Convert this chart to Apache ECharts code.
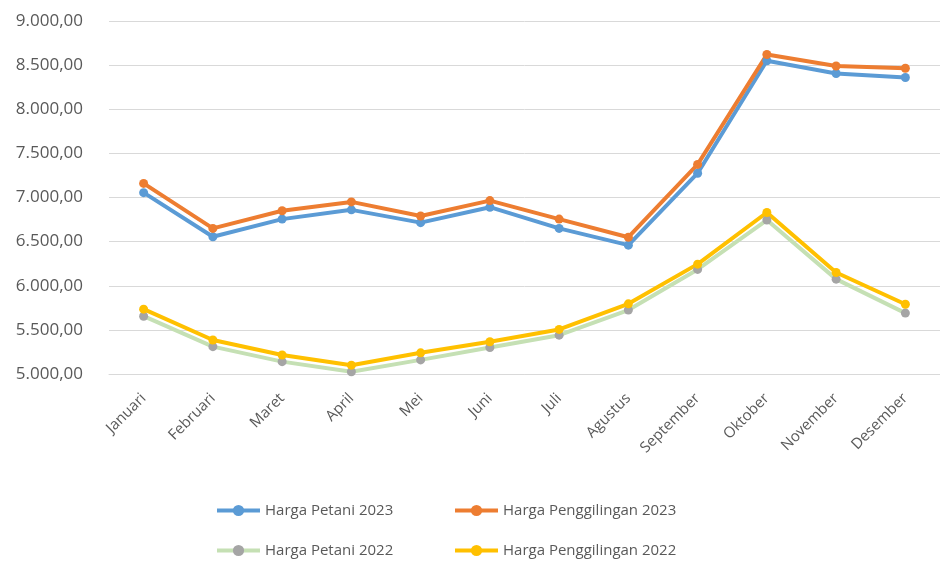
<!DOCTYPE html>
<html>
<head>
<meta charset="utf-8">
<style>
  html, body { margin: 0; padding: 0; background: #fff; }
  #chart { width: 940px; height: 563px; }
</style>
<script src="https://cdn.jsdelivr.net/npm/echarts@6/dist/echarts.min.js"></script>
</head>
<body>
<div id="chart"></div>
<script>
  // data
  var months = ['Januari', 'Februari', 'Maret', 'April', 'Mei', 'Juni', 'Juli',
    'Agustus', 'September', 'Oktober', 'November', 'Desember']
  var petani2023 = [7055, 6555, 6755, 6860, 6715, 6890, 6650, 6460, 7275, 8550, 8405, 8360]
  var penggilingan2023 = [7160, 6650, 6850, 6950, 6790, 6965, 6755, 6550, 7375, 8620, 8490, 8465]
  var petani2022 = [5655, 5310, 5140, 5025, 5160, 5300, 5440, 5725, 6185, 6745, 6075, 5690]
  var penggilingan2022 = [5735, 5385, 5215, 5100, 5240, 5365, 5505, 5795, 6245, 6830, 6150, 5790]

  var font = '"Open Sans", sans-serif'
  var grey = '#595959'

  function fmt(v) {
    var s = Math.round(v).toString().replace(/\B(?=(\d{3})+(?!\d))/g, '.')
    return s + ',00'
  }

  function line(name, data, color, markerColor) {
    return {
      name: name,
      type: 'line',
      data: data,
      symbol: 'circle',
      symbolSize: 9,
      lineStyle: { color: color, width: 4 },
      itemStyle: { color: markerColor || color },
      emphasis: { disabled: true }
    }
  }

  function legend(left, names) {
    return {
      left: left,
      top: 503,
      padding: 0,
      orient: 'vertical',
      itemWidth: 43,
      itemHeight: 14,
      itemGap: 25,
      lineStyle: { width: 4 },
      textStyle: { fontFamily: font, fontSize: 15, color: grey },
      data: names
    }
  }

  var chart = echarts.init(document.getElementById('chart'))
  chart.setOption({
    animation: false,
    grid: { left: 109, top: 21, width: 843, height: 353 },
    legend: [
      legend(215, ['Harga Petani 2023', 'Harga Petani 2022']),
      legend(453, ['Harga Penggilingan 2023', 'Harga Penggilingan 2022'])
    ],
    xAxis: {
      type: 'category',
      data: months,
      axisLine: { lineStyle: { color: '#D9D9D9' } },
      axisTick: { show: false },
      axisLabel: {
        rotate: 45,
        margin: 22,
        fontFamily: font,
        fontSize: 15,
        color: grey
      }
    },
    yAxis: {
      type: 'value',
      min: 5000,
      max: 9000,
      interval: 500,
      axisLine: { show: false },
      axisTick: { show: false },
      splitLine: { lineStyle: { color: '#D9D9D9', width: 1 } },
      axisLabel: {
        margin: 26,
        fontFamily: font,
        fontSize: 17,
        color: grey,
        formatter: fmt
      }
    },
    series: [
      line('Harga Petani 2023', petani2023, '#5B9BD5'),
      line('Harga Penggilingan 2023', penggilingan2023, '#ED7D31'),
      line('Harga Petani 2022', petani2022, '#C5E0B4', '#A5A5A5'),
      line('Harga Penggilingan 2022', penggilingan2022, '#FFC000')
    ]
  })
</script>
</body>
</html>
